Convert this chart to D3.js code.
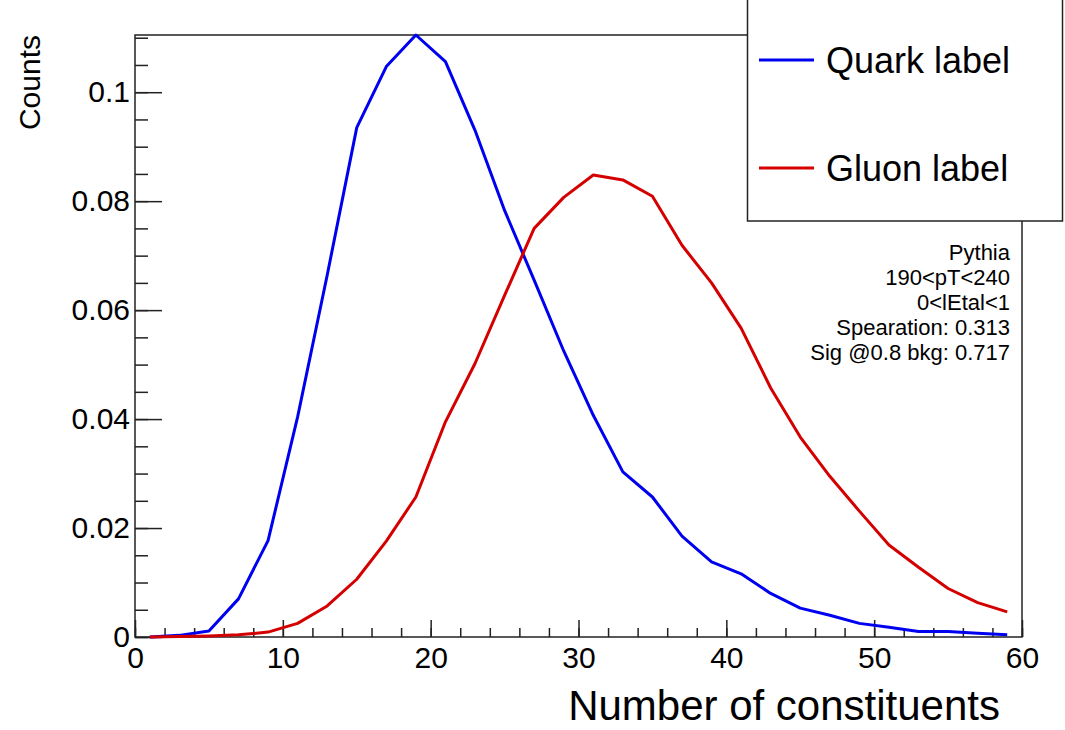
<!DOCTYPE html>
<html>
<head>
<meta charset="utf-8">
<script src="https://cdn.jsdelivr.net/npm/d3@7"></script>
<style>
  body { margin: 0; background: #fff; }
  svg { font-family: "Liberation Sans", Arial, sans-serif; }
</style>
</head>
<body>
<div id="chart"></div>
<script>
// bin centres (odd numbers of constituents)
const binCenters = [1, 3, 5, 7, 9, 11, 13, 15, 17, 19, 21, 23, 25, 27, 29,
  31, 33, 35, 37, 39, 41, 43, 45, 47, 49, 51, 53, 55, 57, 59];

const quarkValues = [0, 0.0003, 0.0011, 0.007, 0.0177, 0.0404, 0.0664, 0.0935, 0.1047, 0.1105,
  0.1056, 0.093, 0.0783, 0.0655, 0.0525, 0.0407, 0.0303, 0.0257, 0.0185, 0.0138,
  0.0116, 0.008, 0.0053, 0.004, 0.0025, 0.0018, 0.001, 0.001, 0.0007, 0.0004];

const gluonValues = [0, 0.0001, 0.0002, 0.0004, 0.0009, 0.0025, 0.0057, 0.0106, 0.0176, 0.0257,
  0.0395, 0.0502, 0.0627, 0.075, 0.0807, 0.0848, 0.0839, 0.0809, 0.0719, 0.065,
  0.0567, 0.0457, 0.0367, 0.0295, 0.0231, 0.0169, 0.0128, 0.0089, 0.0063, 0.0046];

const xMajorTicks = [0, 10, 20, 30, 40, 50, 60];
const yMajorTicks = [0, 0.02, 0.04, 0.06, 0.08, 0.1];
const yTickLabels = ["0", "0.02", "0.04", "0.06", "0.08", "0.1"];

const infoLines = ["Pythia", "190<pT<240", "0<lEtal<1", "Spearation: 0.313", "Sig @0.8 bkg: 0.717"];
const seriesNames = ["Quark label", "Gluon label"];
const seriesColors = ["#0000f0", "#d40000"];

const width = 1065, height = 730;
const plotLeft = 135, plotRight = 1022, plotTop = 35, plotBottom = 637;

const svg = d3.select("#chart")
  .append("svg")
  .attr("width", width)
  .attr("height", height);

const x = d3.scaleLinear().domain([0, 60]).range([plotLeft, plotRight]);
const y = d3.scaleLinear().domain([0, 0.1105]).range([plotBottom, plotTop]);

// x axis, ticks pointing into the frame
svg.append("g")
  .attr("transform", `translate(0,${plotBottom})`)
  .call(d3.axisBottom(x).tickValues(d3.range(0, 60.1, 2)).tickSize(-9).tickFormat(""))
  .call(g => g.select(".domain").remove());

svg.append("g")
  .attr("transform", `translate(0,${plotBottom})`)
  .call(d3.axisBottom(x).tickValues(xMajorTicks).tickSizeInner(-17).tickSizeOuter(0).tickPadding(10).tickFormat(d3.format("d")))
  .call(g => g.select(".domain").remove())
  .call(g => g.selectAll("text").attr("font-size", 30).attr("fill", "#000").attr("font-family", "Liberation Sans, Arial, sans-serif"));

// y axis
svg.append("g")
  .attr("transform", `translate(${plotLeft},0)`)
  .call(d3.axisLeft(y).tickValues(d3.range(0, 0.1101, 0.005)).tickSize(-13).tickFormat(""))
  .call(g => g.select(".domain").remove());

svg.append("g")
  .attr("transform", `translate(${plotLeft},0)`)
  .call(d3.axisLeft(y).tickValues(yMajorTicks).tickSizeInner(-27).tickSizeOuter(0).tickPadding(5)
    .tickFormat((d, i) => yTickLabels[i]))
  .call(g => g.select(".domain").remove())
  .call(g => g.selectAll("text").attr("font-size", 30).attr("fill", "#000").attr("font-family", "Liberation Sans, Arial, sans-serif"));

svg.selectAll(".tick line").attr("stroke", "#222").attr("stroke-width", 1.5);

// frame
svg.append("rect")
  .attr("x", plotLeft).attr("y", plotTop)
  .attr("width", plotRight - plotLeft).attr("height", plotBottom - plotTop)
  .attr("fill", "none")
  .attr("stroke", "#222")
  .attr("stroke-width", 1.5);

// curves
const line = d3.line()
  .x((d, i) => x(binCenters[i]))
  .y(d => y(d));

[quarkValues, gluonValues].forEach((vals, k) => {
  svg.append("path")
    .datum(vals)
    .attr("d", line)
    .attr("fill", "none")
    .attr("stroke", seriesColors[k])
    .attr("stroke-width", 3)
    .attr("stroke-linejoin", "round");
});

// axis titles
svg.append("text")
  .attr("x", 1000).attr("y", 720)
  .attr("text-anchor", "end")
  .attr("font-size", 42)
  .text("Number of constituents");

svg.append("text")
  .attr("transform", "translate(40,35) rotate(-90)")
  .attr("text-anchor", "end")
  .attr("font-size", 30)
  .text("Counts");

// legend
svg.append("rect")
  .attr("x", 747.5).attr("y", -5)
  .attr("width", 315).attr("height", 226)
  .attr("fill", "#fff")
  .attr("stroke", "#222")
  .attr("stroke-width", 1.5);

const legendY = [60, 168];
seriesNames.forEach((name, k) => {
  svg.append("line")
    .attr("x1", 759).attr("x2", 814)
    .attr("y1", legendY[k]).attr("y2", legendY[k])
    .attr("stroke", seriesColors[k])
    .attr("stroke-width", 3);
  svg.append("text")
    .attr("x", 826).attr("y", legendY[k] + 13)
    .attr("font-size", 36)
    .text(name);
});

// info text
svg.append("g")
  .selectAll("text")
  .data(infoLines)
  .enter()
  .append("text")
  .attr("x", 1010)
  .attr("y", (d, i) => 260 + i * 25)
  .attr("text-anchor", "end")
  .attr("font-size", 22)
  .text(d => d);
</script>
</body>
</html>
